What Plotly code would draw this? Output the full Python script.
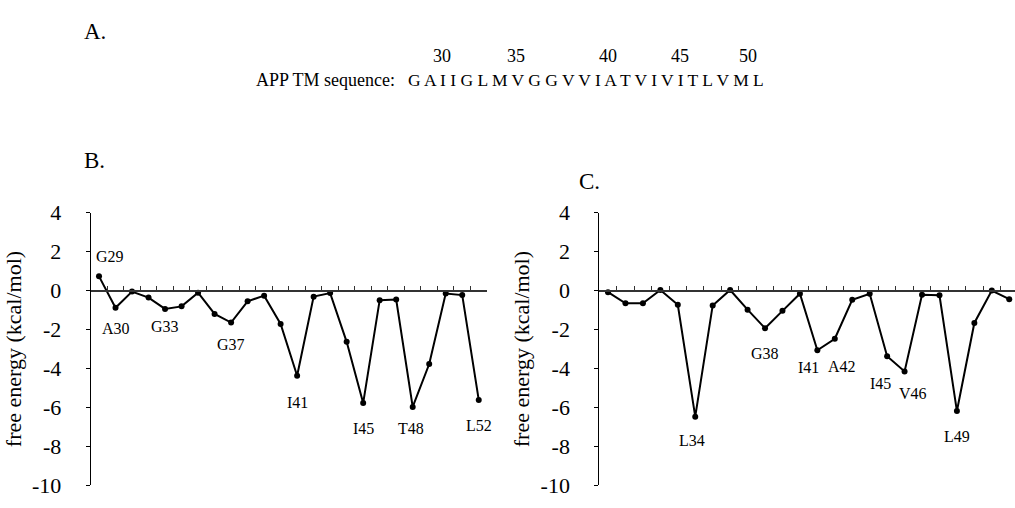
import plotly.graph_objects as go

# ---- data ----
residues = list(range(29, 53))
energy_B = [0.73, -0.88, -0.05, -0.36, -0.94, -0.81, -0.11, -1.20, -1.64, -0.55,
            -0.26, -1.71, -4.37, -0.31, -0.13, -2.63, -5.77, -0.49, -0.46, -5.97,
            -3.77, -0.15, -0.23, -5.61]
energy_C = [-0.08, -0.65, -0.65, 0.03, -0.73, -6.47, -0.76, 0.03, -0.98, -1.93,
            -1.04, -0.16, -3.06, -2.47, -0.47, -0.16, -3.37, -4.15, -0.21, -0.24,
            -6.18, -1.66, 0.00, -0.44]
labels_B = ["G29", "A30", "G33", "G37", "I41", "I45", "T48", "L52"]
labels_C = ["L34", "G38", "I41", "A42", "I45", "V46", "L49"]
sequence = "G A I I G L M V G G V V I A T V I V I T L V M L"
seq_numbers = ["30", "35", "40", "45", "50"]
y_ticks = [4, 2, 0, -2, -4, -6, -8, -10]
y_ticktext = ["4", "2", "0", "-2", "-4", "-6", "-8", "-10"]

# ---- layout geometry (pixels of a 1015x508 page) ----
W, H = 1015, 508
FONT = "Liberation Serif, Times New Roman, Times, serif"
ymin, ymax = -10, 4
ydom = [1 - 498 / H, 1 - 211 / H]
zero_pos = ydom[0] + (0 - ymin) / (ymax - ymin) * (ydom[1] - ydom[0])

# label placement: (data y of text, x shift px)
label_pos_B = {"G29": (1.76, 11), "A30": (-1.97, 0), "G33": (-1.86, 0), "G37": (-2.75, 0),
               "I41": (-5.72, 0), "I45": (-7.09, 0), "T48": (-7.09, -2), "L52": (-6.94, 0)}
label_pos_C = {"L34": (-7.67, -3), "G38": (-3.23, 0), "I41": (-3.97, -9), "A42": (-3.92, 7),
               "I45": (-4.75, -7), "V46": (-5.28, 8), "L49": (-7.48, 0)}

fig = go.Figure()
line_style = dict(color="black", width=2)
marker_style = dict(color="black", size=6)
fig.add_trace(go.Scatter(x=residues, y=energy_B, mode="lines+markers", line=line_style,
                         marker=marker_style, xaxis="x", yaxis="y", showlegend=False))
fig.add_trace(go.Scatter(x=residues, y=energy_C, mode="lines+markers", line=line_style,
                         marker=marker_style, xaxis="x2", yaxis="y2", showlegend=False))

xcommon = dict(showgrid=False, zeroline=False, showticklabels=False, showline=True,
               linecolor="#333333", linewidth=1.5, ticks="inside", ticklen=4,
               tickcolor="#333333", tickwidth=1, tick0=28.5, dtick=1,
               anchor="free", position=zero_pos)
ycommon = dict(range=[ymin, ymax], tickvals=y_ticks, ticktext=y_ticktext, showgrid=False,
               zeroline=False, showline=True, linecolor="black", linewidth=1, ticks="outside",
               ticklen=4, tickcolor="black", tickfont=dict(family=FONT, size=22, color="black"),
               ticklabelstandoff=20, ticklabeloverflow="allow", domain=ydom,
               title=dict(text="free energy (kcal/mol)", standoff=4,
                          font=dict(family=FONT, size=22, color="black")))

fig.update_layout(
    width=W, height=H, margin=dict(l=0, r=0, t=0, b=0),
    paper_bgcolor="white", plot_bgcolor="white",
    font=dict(family=FONT, color="black"),
    xaxis=dict(domain=[90.75 / W, 487 / W], range=[28.5, 52.5], **xcommon),
    xaxis2=dict(domain=[599.3 / W, 1.0], range=[28.5, 52.33], **xcommon),
    yaxis=dict(anchor="x", **ycommon),
    yaxis2=dict(anchor="x2", **ycommon),
)

ann = []
lab_font = dict(family=FONT, size=16, color="black")
for lab in labels_B:
    yy, xs = label_pos_B[lab]
    ann.append(dict(x=int(lab[1:]), y=yy, xref="x", yref="y", text=lab, showarrow=False,
                    xshift=xs, xanchor="center", yanchor="middle", font=lab_font))
for lab in labels_C:
    yy, xs = label_pos_C[lab]
    ann.append(dict(x=int(lab[1:]), y=yy, xref="x2", yref="y2", text=lab, showarrow=False,
                    xshift=xs, xanchor="center", yanchor="middle", font=lab_font))

big = dict(family=FONT, size=23, color="black")
for txt, px, py in [("A.", 82, 21), ("B.", 82, 156), ("C.", 577, 178)]:
    ann.append(dict(x=px / W, y=1 - py / H, xref="paper", yref="paper", text=txt,
                    showarrow=False, xanchor="left", yanchor="middle", font=big))

ann.append(dict(x=397 / W, y=1 - 72 / H, xref="paper", yref="paper", text="APP TM sequence:",
                showarrow=False, xanchor="right", yanchor="middle",
                font=dict(family=FONT, size=18, color="black")))
ann.append(dict(x=406 / W, y=1 - 72 / H, xref="paper", yref="paper", text=sequence,
                showarrow=False, xanchor="left", yanchor="middle",
                font=dict(family=FONT, size=17.5, color="black")))
num_x = [442, 516, 608, 680, 748]
for n, px in zip(seq_numbers, num_x):
    ann.append(dict(x=px / W, y=1 - 46 / H, xref="paper", yref="paper", text=n,
                    showarrow=False, xanchor="center", yanchor="middle",
                    font=dict(family=FONT, size=18, color="black")))

fig.update_layout(annotations=ann)
fig.write_html("out.html")
